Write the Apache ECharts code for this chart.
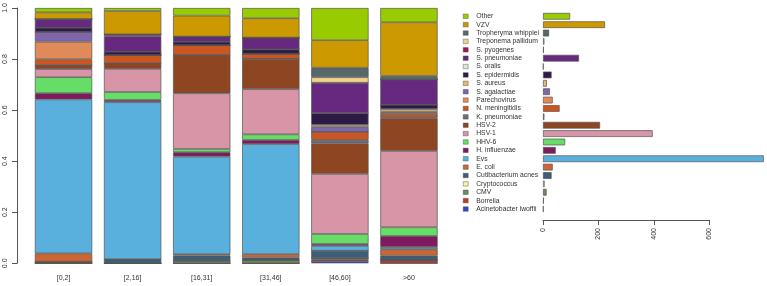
<!DOCTYPE html>
<html>
<head>
<meta charset="utf-8">
<script src="https://cdn.jsdelivr.net/npm/echarts@6/dist/echarts.min.js"></script>
<style>
  html, body { margin: 0; padding: 0; background: #fff; }
  #chart { width: 767px; height: 286px; }
</style>
</head>
<body>
<div id="chart"></div>
<script>
// age groups on the x axis of the stacked chart
const ageGroups = ['[0,2]', '[2,16]', '[16,31]', '[31,46]', '[46,60]', '>60'];

// pathogens, top to bottom as in the legend
const pathogens = [
  'Other', 'VZV', 'Tropheryma whipplei', 'Treponema pallidum', 'S. pyogenes',
  'S. pneumoniae', 'S. oralis', 'S. epidermidis', 'S. aureus', 'S. agalactiae',
  'Parechovirus', 'N. meningitidis', 'K. pneumoniae', 'HSV-2', 'HSV-1', 'HHV-6',
  'H. influenzae', 'Evs', 'E. coli', 'Cutibacterium acnes', 'Cryptococcus', 'CMV',
  'Borrelia', 'Acinetobacter lwoffii'
];

const pathogenColors = [
  '#99cc00', '#cc9900', '#566868', '#f0d08a', '#a01850',
  '#66297f', '#d9e8d2', '#2e1a47', '#e8b473', '#7f66aa',
  '#e08a5a', '#cc5522', '#6e6e7a', '#8e4522', '#d895a8', '#66dd66',
  '#801a5e', '#5ab0dd', '#cc6633', '#3e5e78', '#f2f2a0', '#6e8c5a',
  '#c0392b', '#3344cc'
];

// total number of cases per pathogen (right panel)
const totalCounts = [98, 224, 22, 5, 3, 130, 2, 31, 14, 25, 35, 60, 5, 206, 396, 80, 46, 797, 35, 31, 6, 13, 3, 2];

// share of each pathogen inside an age group (same order as pathogens)
const share0to2 = [0.017, 0.026, 0, 0, 0, 0.034, 0, 0.017, 0, 0.038, 0.069, 0.023, 0, 0.015, 0.032, 0.063, 0.024, 0.603, 0.033, 0, 0, 0.006, 0, 0];
const share2to16 = [0.012, 0.091, 0, 0, 0.007, 0.061, 0, 0.013, 0, 0, 0, 0.033, 0, 0.021, 0.091, 0.031, 0.009, 0.615, 0, 0.016, 0, 0, 0, 0];
const share16to31 = [0.030, 0.082, 0, 0, 0, 0.020, 0, 0.013, 0, 0, 0, 0.039, 0, 0.150, 0.218, 0.013, 0.017, 0.382, 0.006, 0.020, 0, 0.010, 0, 0];
const share31to46 = [0.040, 0.076, 0, 0, 0, 0.046, 0, 0.017, 0, 0, 0, 0.020, 0, 0.119, 0.177, 0.022, 0.016, 0.431, 0.014, 0.010, 0, 0.012, 0, 0];
const share46to60 = [0.126, 0.108, 0.037, 0.022, 0, 0.119, 0, 0.046, 0.008, 0.019, 0, 0.032, 0.013, 0.120, 0.235, 0.039, 0.008, 0.019, 0, 0.029, 0, 0.006, 0.006, 0.008];
const shareOver60 = [0.056, 0.210, 0.014, 0, 0, 0.099, 0, 0.017, 0.010, 0.004, 0.006, 0.013, 0.003, 0.128, 0.299, 0.034, 0.044, 0.008, 0.025, 0.018, 0, 0, 0.012, 0];

const shareTicks = [0, 0.2, 0.4, 0.6, 0.8, 1];
const countTicks = [0, 200, 400, 600];

const font = 'Liberation Sans, Arial, sans-serif';
const edge = { borderColor: '#555', borderWidth: 0.7 };

const shares = [share0to2, share2to16, share16to31, share31to46, share46to60, shareOver60];

// first series is drawn at the bottom of the stack
const stackSeries = pathogens.map((name, i) => ({
  name: name,
  type: 'bar',
  stack: 'share',
  xAxisIndex: 0,
  yAxisIndex: 0,
  barCategoryGap: '17%',
  itemStyle: Object.assign({ color: pathogenColors[i] }, edge),
  data: shares.map(s => s[i])
})).reverse();

const chart = echarts.init(document.getElementById('chart'));
chart.setOption({
  animation: false,
  textStyle: { fontFamily: font },
  grid: [
    { left: 29, width: 414.5, top: 8, height: 255.3 },
    { left: 543, width: 221.6, top: 12.1, height: 201.1 },
    { left: 543, width: 166.2, top: 219, height: 1 }
  ],
  legend: {
    data: pathogens,
    orient: 'vertical',
    left: 463,
    top: 12.1,
    padding: 0,
    itemGap: 0,
    itemWidth: 5,
    itemHeight: 4.5,
    icon: 'rect',
    itemStyle: { borderColor: '#444', borderWidth: 0.4 },
    textStyle: { fontSize: 6.8, color: '#333', lineHeight: 8.38, padding: [0, 0, 0, 3] }
  },
  xAxis: [
    {
      gridIndex: 0,
      type: 'category',
      data: ageGroups,
      axisLine: { show: false },
      axisTick: { show: false },
      axisLabel: { fontSize: 7, color: '#333', margin: 11 }
    },
    { gridIndex: 1, type: 'value', min: 0, max: 800, show: false },
    {
      gridIndex: 2,
      type: 'value',
      min: 0,
      max: 600,
      interval: 200,
      axisLine: { show: true, lineStyle: { color: '#555' } },
      axisTick: { show: true, length: 5, lineStyle: { color: '#555' } },
      axisLabel: { fontSize: 7, color: '#333', rotate: 90, margin: 8, customValues: countTicks },
      splitLine: { show: false }
    }
  ],
  yAxis: [
    {
      gridIndex: 0,
      type: 'value',
      min: 0,
      max: 1,
      interval: 0.2,
      offset: 12,
      axisLine: { show: true, lineStyle: { color: '#555' } },
      axisTick: { show: true, length: 5, lineStyle: { color: '#555' } },
      axisLabel: {
        fontSize: 7,
        color: '#333',
        rotate: 90,
        margin: 8,
        customValues: shareTicks,
        formatter: v => v.toFixed(1)
      },
      splitLine: { show: false }
    },
    { gridIndex: 1, type: 'category', data: pathogens, inverse: true, show: false },
    { gridIndex: 2, type: 'value', show: false }
  ],
  series: stackSeries.concat([
    {
      name: 'count',
      type: 'bar',
      xAxisIndex: 1,
      yAxisIndex: 1,
      barCategoryGap: '20%',
      itemStyle: edge,
      data: totalCounts.map((v, i) => ({ value: v, itemStyle: { color: pathogenColors[i] } }))
    }
  ])
});
</script>
</body>
</html>
